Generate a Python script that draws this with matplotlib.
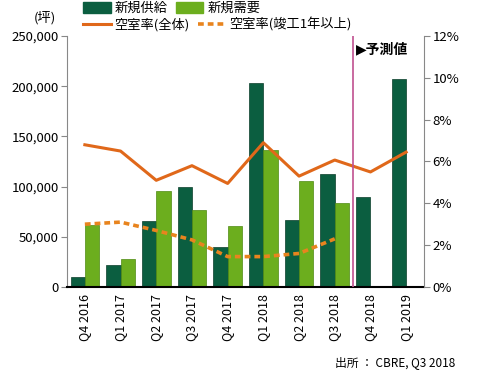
import numpy as np
import matplotlib
matplotlib.use('Agg')
import matplotlib.pyplot as plt
from matplotlib.lines import Line2D
from matplotlib.patches import Patch

plt.rcParams['font.family'] = ['Noto Sans CJK JP', 'DejaVu Sans']

quarters = ['Q4 2016', 'Q1 2017', 'Q2 2017', 'Q3 2017', 'Q4 2017',
            'Q1 2018', 'Q2 2018', 'Q3 2018', 'Q4 2018', 'Q1 2019']
supply = [10000, 22000, 66000, 100000, 40000, 203000, 67000, 113000, 90000, 207000]
demand = [62000, 28000, 96000, 77000, 61000, 136000, 106000, 84000, np.nan, np.nan]
vac_all = [6.8, 6.5, 5.1, 5.8, 4.95, 6.9, 5.3, 6.07, 5.5, 6.45]
vac_old = [3.0, 3.1, 2.7, 2.25, 1.45, 1.45, 1.6, 2.3, np.nan, np.nan]

dark = '#0b5e40'
light = '#6cae1e'
orange = '#e0681a'
orange2 = '#e8841e'

fig = plt.figure(figsize=(5, 3.8), dpi=100)
ax = fig.add_axes([0.134, 0.245, 0.714, 0.66])
x = np.arange(len(quarters))
w = 0.4
ax.bar(x - w/2, supply, w, color=dark, edgecolor='#0a3d2a', linewidth=0.5)
ax.bar(x + w/2, demand, w, color=light, edgecolor='#4f8a12', linewidth=0.5)
ax.set_xlim(-0.5, 9.5)
ax.set_ylim(0, 250000)
ax.set_yticks(range(0, 250001, 50000))
ax.set_yticklabels(['{:,}'.format(v) for v in range(0, 250001, 50000)], fontsize=9.5)
ax.set_xticks(x)
ax.set_xticklabels(quarters, rotation=90, fontsize=9)
ax.tick_params(axis='x', length=0, pad=5)
ax.tick_params(axis='y', length=4, color='#888888', pad=2)
ax.spines['top'].set_visible(False)
ax.spines['right'].set_visible(False)
ax.spines['left'].set_color('#888888')
ax.spines['bottom'].set_linewidth(1.5)

ax2 = ax.twinx()
ax2.plot(x, vac_all, color=orange, lw=2.2)
ax2.plot(x, vac_old, color=orange2, lw=2.6, ls=(0, (1.6, 1.1)))
ax2.set_ylim(0, 12)
ax2.set_yticks(range(0, 13, 2))
ax2.set_yticklabels([str(v) + '%' for v in range(0, 13, 2)], fontsize=9.5)
ax2.tick_params(axis='y', length=4, color='#888888', pad=2)
ax2.spines['top'].set_visible(False)
ax2.spines['left'].set_visible(False)
ax2.spines['bottom'].set_visible(False)
ax2.spines['right'].set_color('#888888')

ax2.axvline(7.5, color='#c05090', lw=1.2)
ax2.text(7.6, 11.35, '▶予測値', fontsize=10, fontweight='bold', va='center', ha='left',
         family=['DejaVu Sans', 'Noto Sans CJK JP'])

fig.text(0.09, 0.952, '(坪)', fontsize=9.5, ha='center', va='center')
fig.text(0.91, 0.045, '出所 ： CBRE, Q3 2018', fontsize=8.5, ha='right', va='center')

leg_kw = dict(ncol=2, loc='center left', frameon=False, fontsize=9.5, handlelength=2.1,
              handleheight=0.9, columnspacing=0.6, handletextpad=0.3,
              borderpad=0, borderaxespad=0)
fig.legend([Patch(color=dark), Patch(color=light)], ['新規供給', '新規需要'],
           bbox_to_anchor=(0.166, 0.978), **leg_kw)
fig.legend([Line2D([], [], color=orange, lw=2.2),
            Line2D([], [], color=orange2, lw=2.6, ls=(0, (1.6, 1.1)))],
           ['空室率(全体)', '空室率(竣工1年以上)'],
           bbox_to_anchor=(0.166, 0.935), **leg_kw)

fig.savefig('out.png', dpi=100)
